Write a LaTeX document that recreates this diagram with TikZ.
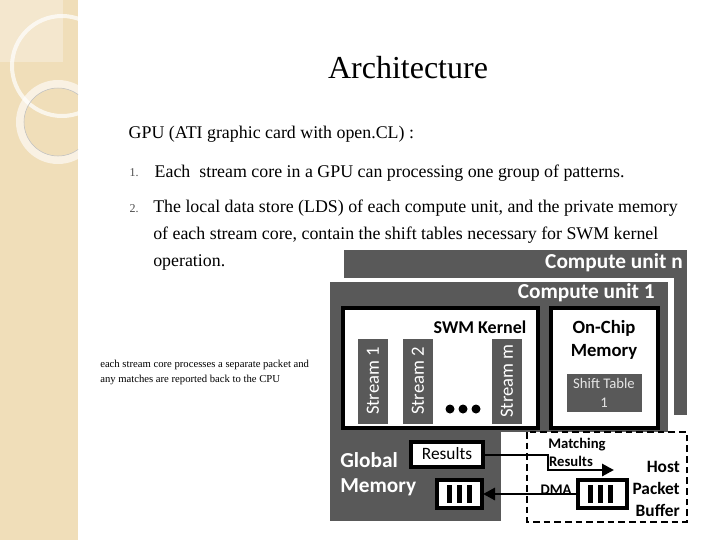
\documentclass[tikz,border=0pt]{standalone}
\usepackage{fontspec}
\setmainfont{Liberation Serif}
\newfontfamily\calib{Carlito}
\usetikzlibrary{arrows.meta}
\definecolor{cugray}{RGB}{89,89,89}
\definecolor{strip}{RGB}{240,222,185}
\tikzset{
  unit/.style={fill=cugray,draw=none},
  wbox/.style={draw=black,line width=3pt,fill=white},
  lbl/.style={font=\calib\bfseries,text=white,inner sep=0pt},
  blbl/.style={font=\calib\bfseries\small,text=black,inner sep=0pt},
  bar/.style={fill=black,draw=none},
  flow/.style={line width=2.2pt,-{Triangle[length=9pt,width=9pt]}}
}
\begin{document}
\begin{tikzpicture}[x=0.75pt,y=-0.75pt]
\useasboundingbox (0,0) rectangle (720,540);
% side strip
\fill[strip] (0,0) rectangle (78,540);
\begin{scope}
\clip (0,0) rectangle (78,540);
\fill[white,opacity=0.3] (0,0) rectangle (63,62);
\draw[white,opacity=0.7,line width=3pt] (62,66) circle (50);
\draw[white,opacity=0.6,line width=6pt] (58,122) circle (38);
\draw[black!25,line width=0.4pt] (58,122) circle (34);
\end{scope}
% text
\node[font=\fontsize{24}{28}\selectfont] (title) at (408,68) {Architecture};
\node[anchor=west,font=\fontsize{13.4}{15}\selectfont] (gpu) at (124,134) {GPU (ATI graphic card with open.CL) :};
\node[anchor=west,font=\fontsize{9}{11}\selectfont,text=black!70] (n1) at (125,173) {1.};
\node[anchor=west,font=\fontsize{13.4}{15}\selectfont] (t1) at (150,173) {Each\ \ stream core in a GPU can processing one group of patterns.};
\node[anchor=west,font=\fontsize{9}{11}\selectfont,text=black!70] (n2) at (125,209) {2.};
\node[anchor=north west,font=\fontsize{13.4}{15}\selectfont,align=left,inner sep=0pt] (t2) at (153,200) {The local data store (LDS) of each compute unit, and the private memory\\[5pt]of each stream core, contain the shift tables necessary for SWM kernel\\[5pt]operation.};
\node[anchor=north west,font=\fontsize{8}{11}\selectfont,align=left,inner sep=0pt] (note) at (100,360) {each stream core processes a separate packet and\\any matches are reported back to the CPU};
% compute units
\fill[unit] (344,250) rectangle (687,415);
\fill[white] (326,278) rectangle (674,436);
\fill[unit] (330,282) rectangle (668,432);
\node[lbl,anchor=east,font=\calib\bfseries\fontsize{16}{18}\selectfont] (cun) at (683,263) {Compute unit n};
\node[lbl,anchor=east,font=\calib\bfseries\fontsize{16}{18}\selectfont] (cu1) at (655,293) {Compute unit 1};
% SWM kernel
\draw[wbox] (343,308) rectangle (538,428);
\node[blbl,font=\calib\bfseries\fontsize{13.5}{16}\selectfont] (swm) at (480,327) {SWM Kernel};
\foreach \x/\s in {358/1,403/2,492/m}{
  \fill[unit] (\x,339) rectangle ++(30,85);
  \node[lbl,font=\calib\fontsize{14}{16}\selectfont,rotate=90] (st\s) at (\x+15,381) {Stream \s};
}
\foreach \x in {450,463,476} \fill[black] (\x,409) circle (4.5);
% on-chip
\draw[wbox] (551,308) rectangle (658,428);
\node[blbl,align=center,font=\calib\bfseries\fontsize{14}{17}\selectfont] (onchip) at (604,340) {On-Chip\\Memory};
\fill[unit] (567,374) rectangle (642,412);
\node[lbl,align=center,font=\calib\fontsize{11}{14}\selectfont,text=white!90!black] (shift) at (604,393) {Shift Table\\1};
% global memory
\fill[unit] (330,432) rectangle (501,521);
\node[lbl,anchor=west,align=left,font=\calib\bfseries\fontsize{16}{19}\selectfont] (glob) at (340,474) {Global\\Memory};
\draw[wbox] (411,442) rectangle (483,467);
\node[inner sep=0pt,font=\calib\fontsize{13}{15}\selectfont] (res) at (447,454) {Results};
\coordinate (resr) at (484,455);
\draw[wbox] (437,480) rectangle (482,508);
\coordinate (gbuf) at (483,494);
\foreach \x in {447,457,467} \fill[bar] (\x,485) rectangle ++(5,18);
% host
\draw[line width=1.6pt,dash pattern=on 5pt off 3pt] (527,432) rectangle (687,522);
\draw[wbox] (578,480) rectangle (627,508);
\coordinate (hbuf) at (577,494);
\foreach \x in {588,598,608} \fill[bar] (\x,485) rectangle ++(5,18);
\node[blbl,font=\calib\bfseries\fontsize{11}{13}\selectfont] (match) at (577,445) {Matching};
\node[blbl,font=\calib\bfseries\fontsize{11}{13}\selectfont] (mres) at (571,461) {Results};
\node[blbl,font=\calib\bfseries\fontsize{11}{13}\selectfont] (dma) at (556,490) {DMA};
\node[blbl,anchor=east,align=right,font=\calib\bfseries\fontsize{13}{16.5}\selectfont] (host) at (680,489) {Host\\Packet\\Buffer};
\coordinate (mtip) at (614,470);
% arrows
\draw[flow] (resr) -| (548,470) -- (mtip);
\draw[flow] (hbuf) -- (gbuf);
\end{tikzpicture}
\end{document}
